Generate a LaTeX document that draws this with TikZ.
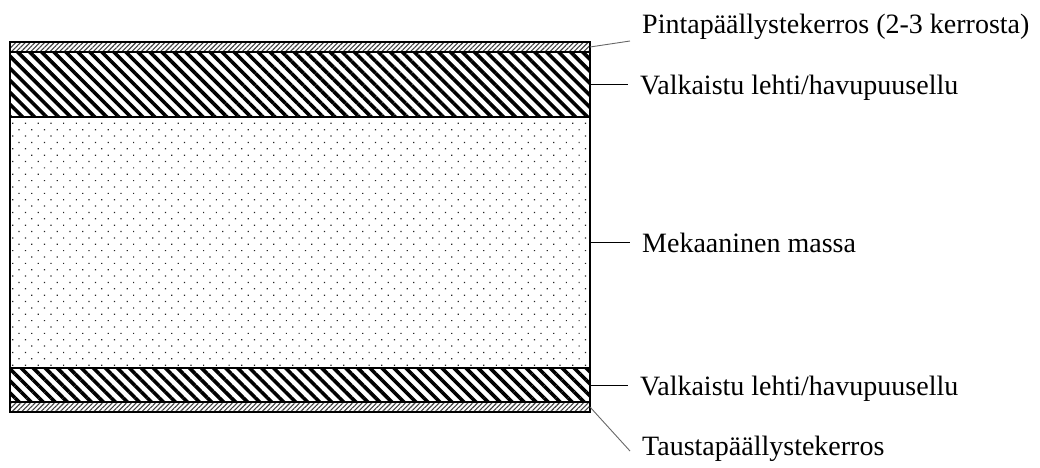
\documentclass[tikz,border=0pt]{standalone}
\usepackage{fontspec}
\setmainfont{Liberation Serif}
\usetikzlibrary{positioning,patterns.meta}

\begin{document}
\begin{tikzpicture}[
        x=1pt, y=-1pt,
        % Styles
        layer/.style={draw=black, line width=1.8pt, inner sep=0pt, outer sep=0pt, minimum width=580pt},
        coatlayer/.style={layer, minimum height=10pt, pattern={Lines[angle=45, distance=3.4pt, line width=1.1pt]}, pattern color=black!75},
        pulplayer/.style={layer, pattern={Lines[angle=-45, distance=8.5pt, line width=3.6pt]}},
        masslayer/.style={layer, minimum height=251pt, pattern={Dots[angle=45, distance=9pt, radius=0.85pt]}, pattern color=black!85},
        caption/.style={anchor=base west, inner sep=0pt, font=\fontsize{28}{34}\selectfont},
        leader/.style={line width=0.9pt, color=black},
        slantleader/.style={line width=0.9pt, color=black!60}
    ]
    \useasboundingbox (0,0) rectangle (1040,467);

    % ================= LAYERS =================
    \node[coatlayer] (topcoat) at (300,47) {};
    \node[pulplayer, minimum height=65pt] (toppulp) at (300,84.5) {};
    \node[masslayer] (mass) at (300,242.5) {};
    \node[pulplayer, minimum height=34pt] (botpulp) at (300,385) {};
    \node[coatlayer] (botcoat) at (300,407) {};

    % ================= LABELS =================
    \node[caption] (topcoatlabel) at (642,33) {Pintapäällystekerros (2-3 kerrosta)};
    \node[caption] (toppulplabel) at (640,94) {Valkaistu lehti/havupuusellu};
    \node[caption] (masslabel) at (642,252) {Mekaaninen massa};
    \node[caption] (botpulplabel) at (640,395) {Valkaistu lehti/havupuusellu};
    \node[caption] (botcoatlabel) at (642,455) {Taustapäällystekerros};

    % ================= LEADER LINES =================
    % Slanted ones end just short of the label; horizontal ones run straight out.
    \coordinate (topcoattip) at (630,41);
    \coordinate (botcoattip) at (630,451);
    \draw[slantleader] (topcoat.east) -- (topcoattip);
    \draw[leader] (toppulp.east) -- (toppulp.east -| 628,0);
    \draw[leader] (mass.east) -- (mass.east -| 630,0);
    \draw[leader] (botpulp.east) -- (botpulp.east -| 628,0);
    \draw[slantleader] (botcoat.east) -- (botcoattip);

\end{tikzpicture}
\end{document}
